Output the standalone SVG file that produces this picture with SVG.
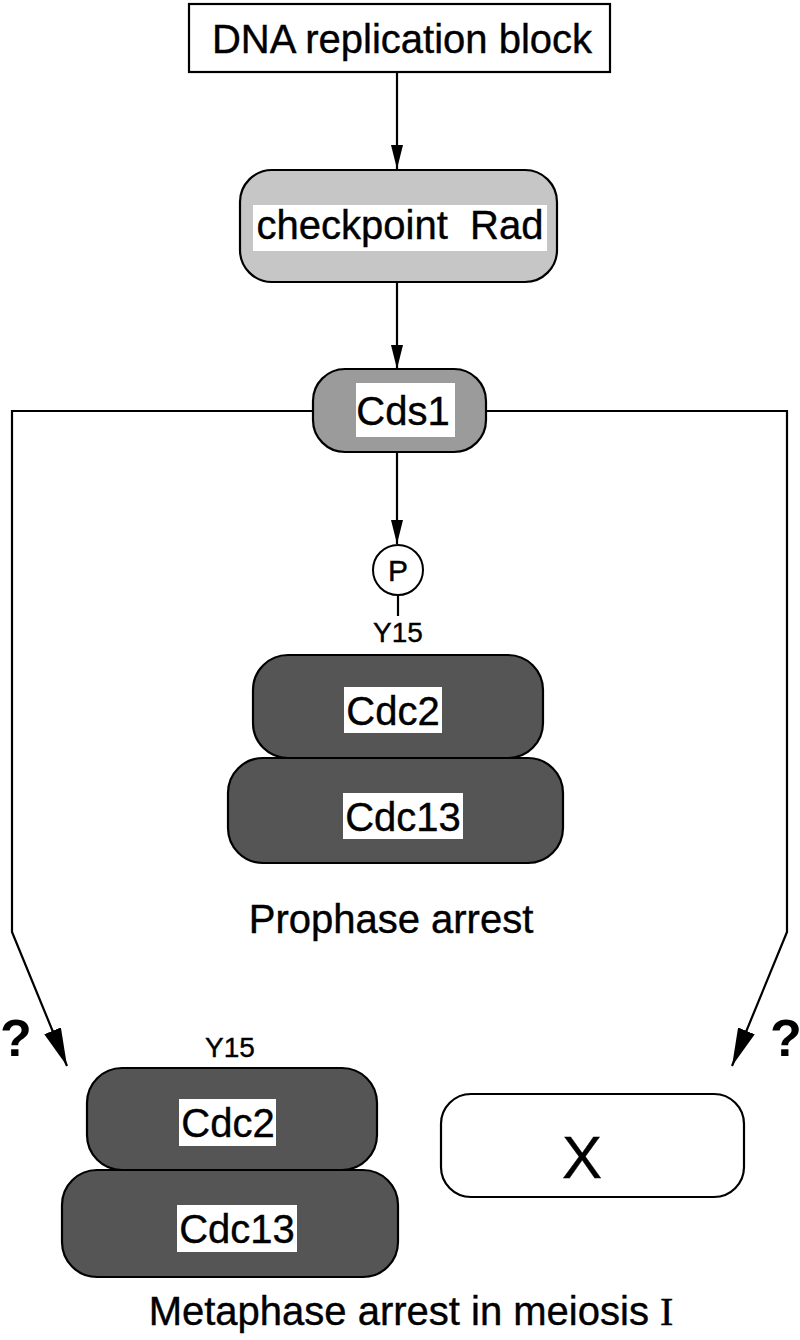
<svg xmlns="http://www.w3.org/2000/svg" width="800" height="1340" viewBox="0 0 800 1340">
<style>
text{font-family:"Liberation Sans",Arial,sans-serif;fill:#000;text-anchor:middle;stroke:#000;stroke-width:0.4}
.big{font-size:40px}
.sm{font-size:28px}
.q{font-size:52px;font-weight:bold;stroke:none}
.edge{fill:none;stroke:#000;stroke-width:2.2}
.lbl{fill:#fff}
.dark{fill:#555;stroke:#000;stroke-width:2.2}
</style>
<defs>
<marker id="ah" markerWidth="24" markerHeight="12" refX="24" refY="6" orient="auto" markerUnits="userSpaceOnUse" viewBox="0 0 24 12">
<path d="M0,0 L24,6 L0,12 Z" fill="#000"/>
</marker>
<marker id="ah2" markerWidth="38" markerHeight="18" refX="38" refY="9" orient="auto" markerUnits="userSpaceOnUse" viewBox="0 0 38 18">
<path d="M0,0 L38,9 L0,18 Z" fill="#000"/>
</marker>
</defs>

<g id="connectors">
<line class="edge" x1="397" y1="73" x2="397" y2="169" marker-end="url(#ah)"/>
<line class="edge" x1="397" y1="282" x2="397" y2="369" marker-end="url(#ah)"/>
<line class="edge" x1="397" y1="452" x2="397" y2="544" marker-end="url(#ah)"/>
<polyline class="edge" points="313,411 12,411 12,932 67,1066" marker-end="url(#ah2)"/>
<polyline class="edge" points="486,411 787,411 787,932 732,1066" marker-end="url(#ah2)"/>
<line class="edge" x1="398" y1="595" x2="398" y2="616"/>
</g>

<g id="dna">
<rect x="189" y="4" width="421" height="68" fill="#fff" stroke="#000" stroke-width="2.2"/>
<text class="big" x="402" y="53">DNA replication block</text>
</g>

<g id="rad">
<rect x="240" y="170" width="317" height="112" rx="32" fill="#c6c6c6" stroke="#000" stroke-width="2.2"/>
<rect class="lbl" x="253" y="205" width="294" height="46"/>
<text class="big" x="400" y="239" xml:space="preserve">checkpoint  Rad</text>
</g>

<g id="cds1">
<rect x="313" y="369" width="173" height="83" rx="32" fill="#9b9b9b" stroke="#000" stroke-width="2.2"/>
<rect class="lbl" x="356" y="383" width="99" height="54"/>
<text class="big" x="403" y="425">Cds1</text>
</g>

<g id="phospho">
<circle cx="398" cy="570" r="25" fill="#fff" stroke="#000" stroke-width="2"/>
<text x="398" y="581" style="font-size:30px">P</text>
<text class="sm" x="398" y="642">Y15</text>
</g>

<g id="cdc-prophase">
<rect class="dark" x="228" y="758" width="335" height="105" rx="35"/>
<rect class="dark" x="253" y="655" width="290" height="103" rx="35"/>
<rect class="lbl" x="344" y="687" width="98" height="46"/>
<text class="big" x="393" y="725">Cdc2</text>
<rect class="lbl" x="343" y="793" width="120" height="46"/>
<text class="big" x="403" y="831">Cdc13</text>
</g>

<g id="prophase-label">
<text class="big" x="391" y="933">Prophase arrest</text>
</g>

<g id="q-left"><text class="q" x="16" y="1056">?</text></g>
<g id="q-right"><text class="q" x="786" y="1056">?</text></g>

<g id="cdc-metaphase">
<text class="sm" x="230" y="1057">Y15</text>
<rect class="dark" x="62" y="1170" width="336" height="107" rx="35"/>
<rect class="dark" x="87" y="1068" width="290" height="102" rx="35"/>
<rect class="lbl" x="179" y="1099" width="97" height="47"/>
<text class="big" x="228" y="1137">Cdc2</text>
<rect class="lbl" x="177" y="1205" width="120" height="47"/>
<text class="big" x="237" y="1243">Cdc13</text>
</g>

<g id="x">
<rect x="441" y="1094" width="303" height="103" rx="30" fill="#fff" stroke="#000" stroke-width="2.2"/>
<text x="582" y="1178" style="font-size:60px">X</text>
</g>

<g id="metaphase-label">
<text class="big" x="411" y="1325">Metaphase arrest in meiosis <tspan style="font-family:'Liberation Serif','Times New Roman',serif">I</tspan></text>
</g>
</svg>
